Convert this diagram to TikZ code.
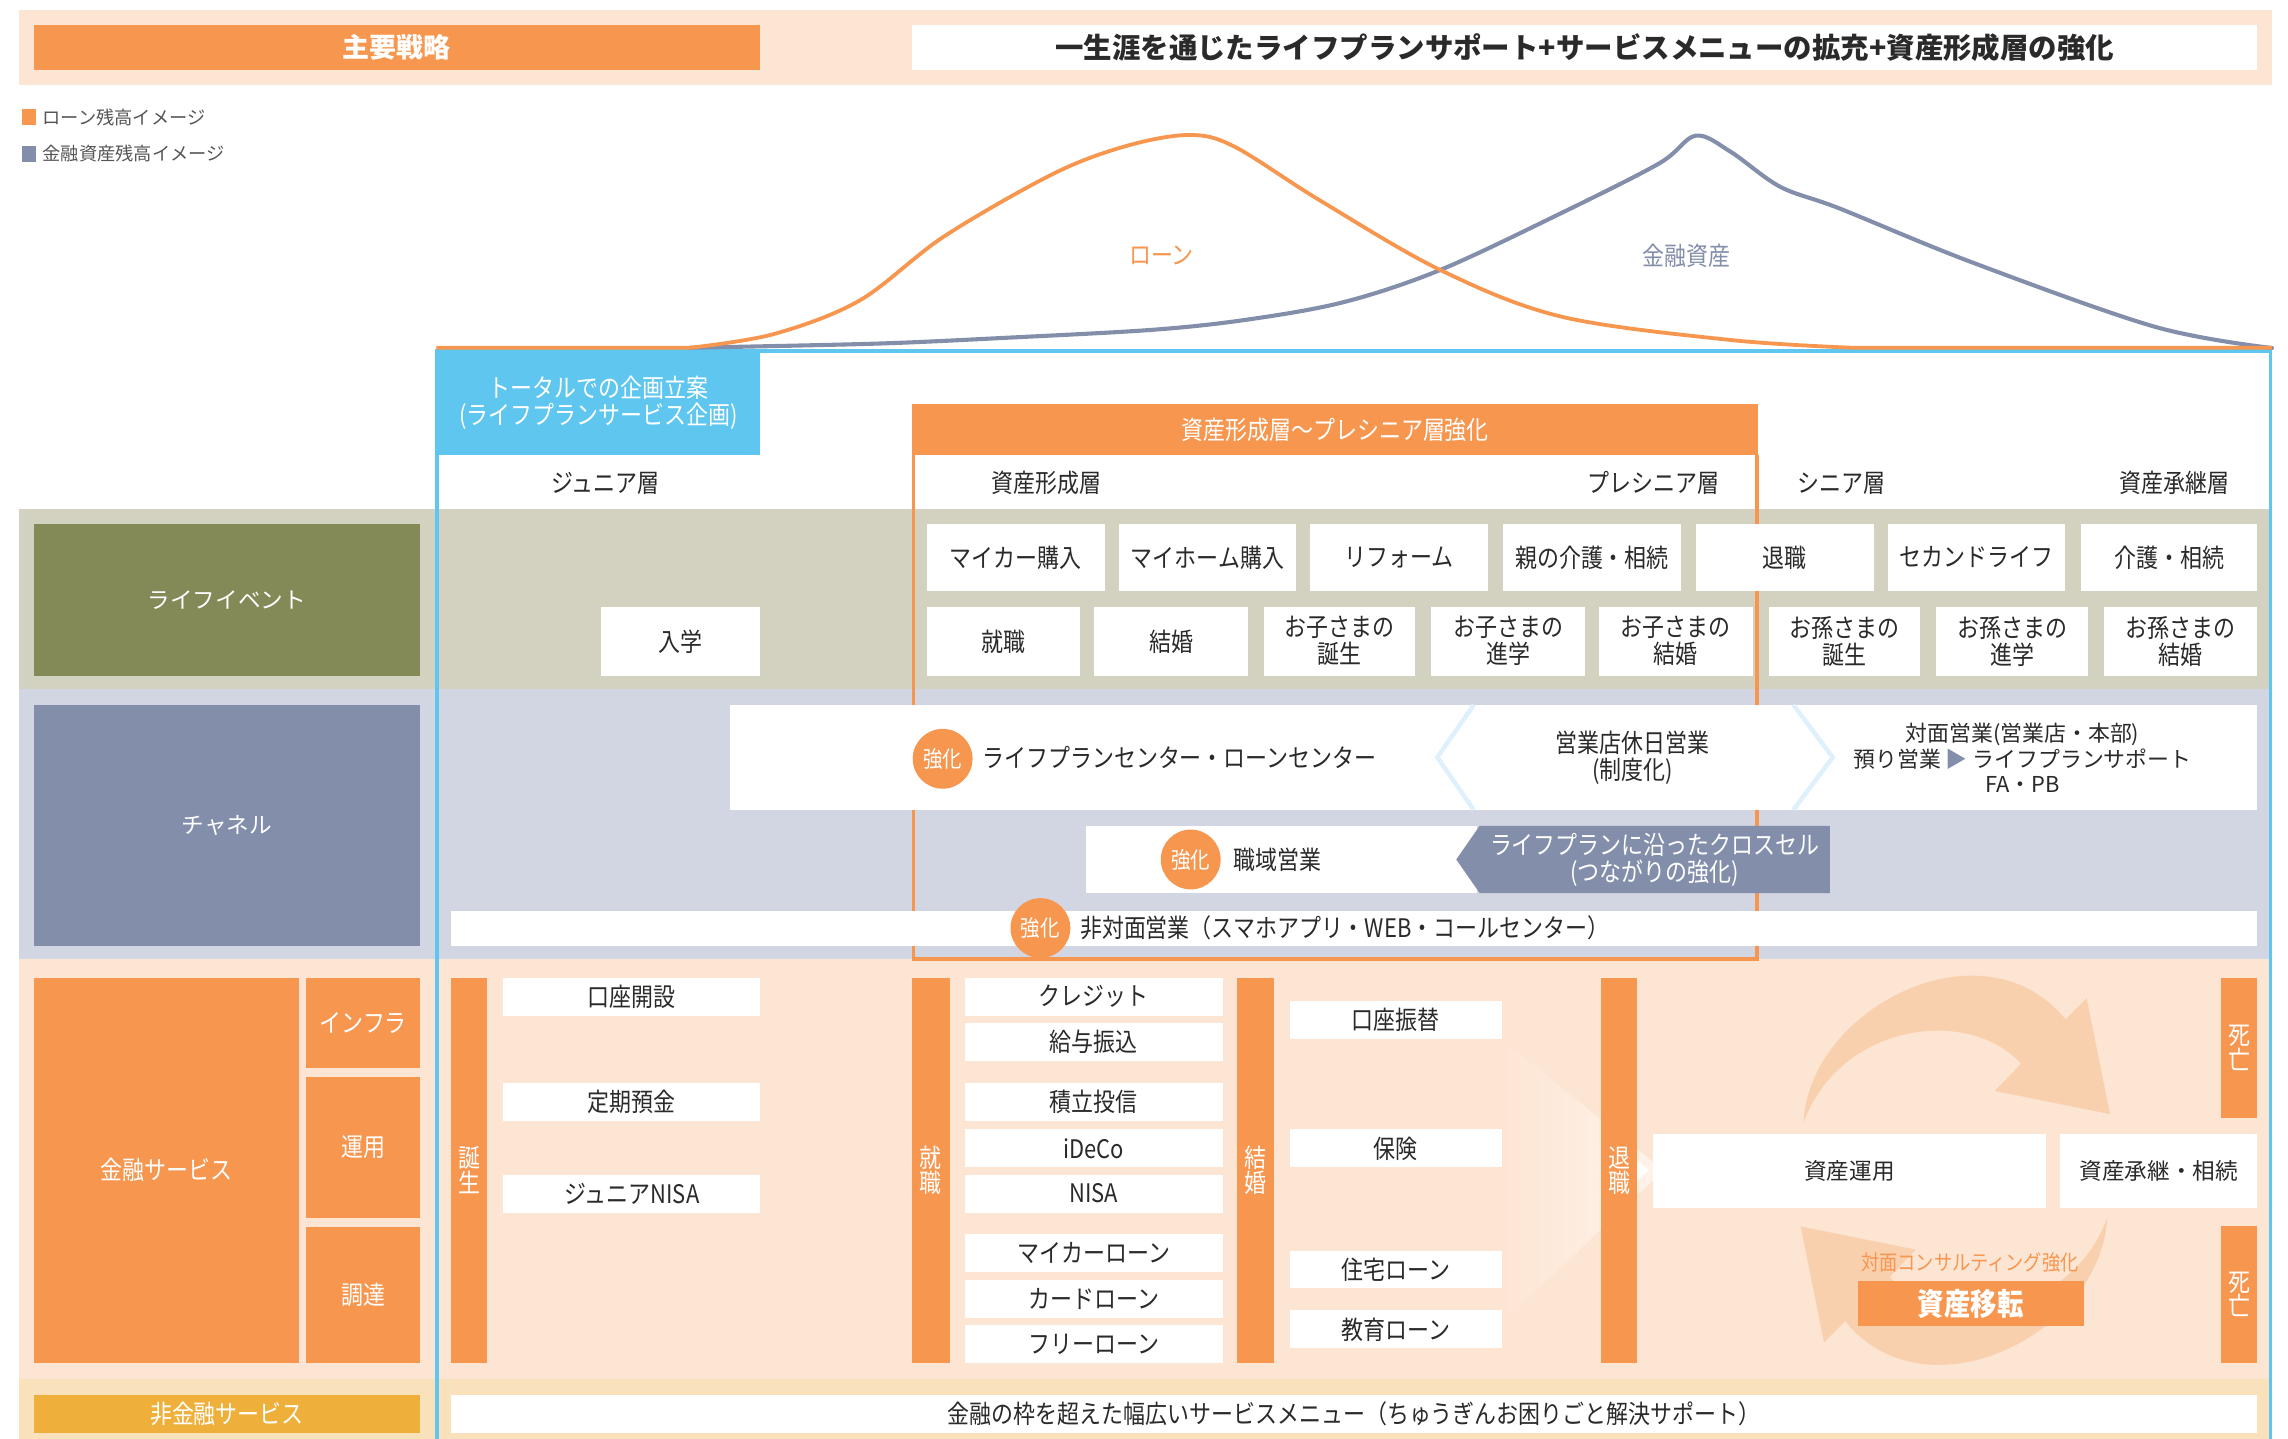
\documentclass[tikz,border=0pt]{standalone}
\usepackage{fontspec}
\setmainfont{Noto Sans CJK JP}
\newfontfamily\jp{Noto Sans CJK JP}
\newfontfamily\jpc[FakeStretch=0.86]{Noto Sans CJK JP}
\definecolor{cOr}{HTML}{F7964F}
\definecolor{cPeach}{HTML}{FDE5D3}
\definecolor{cBeige}{HTML}{D3D2C1}
\definecolor{cOlive}{HTML}{838A57}
\definecolor{cChan}{HTML}{D2D6E2}
\definecolor{cSlate}{HTML}{838EAA}
\definecolor{cBlue}{HTML}{5EC6EF}
\definecolor{cYel}{HTML}{F9E1BB}
\definecolor{cYelBox}{HTML}{EFB03B}
\definecolor{cArr}{HTML}{F9D0AE}
\definecolor{cChev}{HTML}{DDF0FB}
\definecolor{cTxt}{HTML}{2A2A2A}
\definecolor{cGray}{HTML}{555555}
\tikzset{
  wbox/.style={draw=none, fill=white, inner sep=0pt, outer sep=0pt, align=center, text=cTxt,
    font={\jpc\fontsize{17.5}{18.5}\selectfont}},
  nfont/.style={font={\jp\fontsize{15.5}{17.5}\selectfont}},
  barbox/.style={fill=cOr, text=white, font={\jpc\fontsize{17.5}{17}\selectfont}},
  kyoka/.style={circle, fill=cOr, minimum size=41pt, inner sep=0pt, text=white,
    font={\jpc\fontsize{15.5}{15.5}\selectfont}},
  lbl/.style={inner sep=0pt, text=cTxt, align=center, font={\jpc\fontsize{17.5}{18.5}\selectfont}},
}
% \bx[options]{name}{x1}{y1}{x2}{y2}{text}
\newcommand\bx[7][]{\node[wbox,minimum width={#5-#3},minimum height={#6-#4},#1] (#2) at ({(#3+#5)/2},{(#4+#6)/2}) {#7};}
\begin{document}
\begin{tikzpicture}[x=1pt,y=-1pt]
\useasboundingbox (0,0) rectangle (1568,986);
\fill[white] (0,0) rectangle (1568,986);

% ---------- header ----------
\fill[cPeach] (13,7) rectangle (1557,58);
\bx[fill=cOr,text=white,font={\jp\bfseries\fontsize{18.5}{20}\selectfont}]{hdl}{23}{17}{521}{48}{主要戦略}
\bx[font={\jp\bfseries\fontsize{19.5}{21}\selectfont}]{hdr}{625}{17}{1547}{48}{一生涯を通じたライフプランサポート+サービスメニューの拡充+資産形成層の強化}

% ---------- legend ----------
\fill[cOr] (15,75) rectangle (25,86);
\node[anchor=west,inner sep=0pt,text=cGray,font={\jp\fontsize{12.5}{14}\selectfont}] (lg1) at (29,80.5) {ローン残高イメージ};
\fill[cSlate] (15,100) rectangle (25,111);
\node[anchor=west,inner sep=0pt,text=cGray,font={\jp\fontsize{12.5}{14}\selectfont}] (lg2) at (29,105.5) {金融資産残高イメージ};

% ---------- bands ----------
\fill[cBeige] (13,349) rectangle (1557,472);
\fill[cChan] (13,472) rectangle (1557,657);
\fill[cPeach] (13,657) rectangle (1557,945);
\fill[cYel] (13,945) rectangle (1557,986);

% ---------- blue frame ----------
\bx[fill=cBlue,text=white]{plan}{299}{240}{521}{312}{トータルでの企画立案\\(ライフプランサービス企画)}
\draw[cBlue,line width=2.5pt] (299.5,986) -- (299.5,240.5) -- (1556,240.5) -- (1556,986);

% ---------- curves ----------
\draw[cSlate,line width=2.8pt,line cap=round] plot[smooth,tension=0.55] coordinates {(473,238.3) (600,235.5) (689,231.5) (790,226) (855,219) (921,207) (987,185) (1070,146) (1137,112) (1162,93) (1186,104) (1220,128) (1261,143) (1352,180) (1477,224) (1557,238.5)};
\draw[cOr,line width=2.6pt] (299,238.3) -- (473,238.3) -- plot[smooth,tension=0.55] coordinates {(473,238.3) (530,229) (589,206) (647,162) (722,119) (772,100) (815,92.5) (846,100.5) (904,137) (987,185) (1070,217) (1186,233) (1269,238.3)} -- (1557,238.3);
\node[lbl,text=cOr] (loanlbl) at (796,175) {ローン};
\node[lbl,text=cSlate] (assetlbl) at (1156,175) {金融資産};

% ---------- orange frame ----------
\draw[cOr,line width=2.5pt] (626,312) -- (626,657) -- (1204,657) -- (1204,312);
\bx[fill=cOr,text=white]{senior}{625}{277}{1205}{312}{資産形成層～プレシニア層強化}

% ---------- column labels ----------
\node[lbl] (c1) at (415,331) {ジュニア層};
\node[lbl] (c2) at (717,331) {資産形成層};
\node[lbl] (c3) at (1133,331) {プレシニア層};
\node[lbl] (c4) at (1262,331) {シニア層};
\node[lbl] (c5) at (1490,331) {資産承継層};

% ---------- life events ----------
\bx[fill=cOlive,text=white,nfont]{le}{23}{359}{288}{463}{ライフイベント}
\bx{e1}{635}{359}{757}{405}{マイカー購入}
\bx{e2}{767}{359}{888}{405}{マイホーム購入}
\bx{e3}{898}{359}{1020}{405}{リフォーム}
\bx{e4}{1030}{359}{1152}{405}{親の介護・相続}
\bx{e5}{1162}{359}{1284}{405}{退職}
\bx{e6}{1294}{359}{1415}{405}{セカンドライフ}
\bx{e7}{1426}{359}{1547}{405}{介護・相続}
\bx{f0}{412}{416}{521}{463}{入学}
\bx{f1}{635}{416}{740}{463}{就職}
\bx{f2}{750}{416}{855}{463}{結婚}
\bx{f3}{866}{416}{970}{463}{お子さまの\\誕生}
\bx{f4}{981}{416}{1086}{463}{お子さまの\\進学}
\bx{f5}{1096}{416}{1201}{463}{お子さまの\\結婚}
\bx{f6}{1212}{416}{1316}{463}{お孫さまの\\誕生}
\bx{f7}{1327}{416}{1431}{463}{お孫さまの\\進学}
\bx{f8}{1442}{416}{1547}{463}{お孫さまの\\結婚}

% ---------- channels ----------
\bx[fill=cSlate,text=white,nfont]{ch}{23}{483}{288}{648}{チャネル}
\bx{cb1}{500}{483}{1547}{555}{}
\draw[cChev,line width=3pt] (1010,483) -- (985,519) -- (1010,555);
\draw[cChev,line width=3pt] (1229,483) -- (1256,519) -- (1229,555);
\node[kyoka] (k1) at (646,520) {強化};
\node[lbl,anchor=west] (lpc) at (673,519) {ライフプランセンター・ローンセンター};
\node[lbl] (eig) at (1119,519) {営業店休日営業\\(制度化)};
\node[lbl,font={\jp\fontsize{15}{17.5}\selectfont}] (tai) at (1386,519.5) {対面営業(営業店・本部)\\預り営業 {\color{cSlate}▶} ライフプランサポート\\FA・PB};
\bx{cb2}{744}{566}{1012}{612}{}
\fill[cSlate] (998,589) -- (1014,566) -- (1254,566) -- (1254,612) -- (1014,612) -- cycle;
\node[lbl,text=white] (cross) at (1134,589) {ライフプランに沿ったクロスセル\\(つながりの強化)};
\node[kyoka] (k2) at (816,589) {強化};
\node[lbl,anchor=west] (shoku) at (845,589) {職域営業};
\bx{cb3}{309}{624}{1547}{648}{}
\node[kyoka] (k3) at (713,636) {強化};
\node[lbl,anchor=west] (hitai) at (740,636) {非対面営業（スマホアプリ・WEB・コールセンター）};

% ---------- financial services ----------
\bx[fill=cOr,text=white]{fs}{23}{670}{205}{934}{金融サービス}
\bx[fill=cOr,text=white]{inf}{210}{670}{288}{732}{インフラ}
\bx[fill=cOr,text=white]{uny}{210}{738}{288}{835}{運用}
\bx[fill=cOr,text=white]{cho}{210}{841}{288}{934}{調達}

% funnel wedge toward retirement
\shade[left color=cPeach, right color=white!55!cPeach] (1029,712) -- (1140,802) -- (1029,907) -- cycle;

% circular arrows
\fill[cArr] (1236,769) .. controls (1240,690) and (1360,630) .. (1415.5,698.6) -- (1430,684) -- (1446,763.5) -- (1367,747.6) -- (1385,729) .. controls (1350,690) and (1262,700) .. (1236,769) -- cycle;
\begin{scope}[rotate around={180:(1340,802)}]
\fill[cArr] (1236,769) .. controls (1240,690) and (1360,630) .. (1415.5,698.6) -- (1430,684) -- (1446,763.5) -- (1367,747.6) -- (1385,729) .. controls (1350,690) and (1262,700) .. (1236,769) -- cycle;
\end{scope}

% bars
\bx[barbox]{b1}{309}{670}{334}{934}{誕\\生}
\bx[barbox]{b2}{625}{670}{651}{934}{就\\職}
\bx[barbox]{b3}{848}{670}{873}{934}{結\\婚}
\bx[barbox]{b4}{1097}{670}{1122}{934}{退\\職}
\fill[white] (1122,795) -- (1130,802) -- (1122,809) -- cycle;
\bx[barbox]{b5}{1522}{670}{1547}{766}{死\\亡}
\bx[barbox]{b6}{1522}{840}{1547}{934}{死\\亡}

% column A
\bx{a1}{345}{670}{521}{696}{口座開設}
\bx{a2}{345}{742}{521}{768}{定期預金}
\bx{a3}{345}{805}{521}{831}{ジュニアNISA}
% column B
\bx{p1}{661}{670}{838}{696}{クレジット}
\bx{p2}{661}{701}{838}{727}{給与振込}
\bx{p3}{661}{742}{838}{768}{積立投信}
\bx{p4}{661}{774}{838}{800}{iDeCo}
\bx{p5}{661}{805}{838}{831}{NISA}
\bx{p6}{661}{846}{838}{872}{マイカーローン}
\bx{p7}{661}{877}{838}{903}{カードローン}
\bx{p8}{661}{908}{838}{934}{フリーローン}
% column C
\bx{q1}{884}{686}{1029}{712}{口座振替}
\bx{q2}{884}{774}{1029}{800}{保険}
\bx{q3}{884}{857}{1029}{883}{住宅ローン}
\bx{q4}{884}{898}{1029}{924}{教育ローン}
% right part
\bx[font={\jp\fontsize{15.5}{17}\selectfont}]{r1}{1133}{777}{1402}{828}{資産運用}
\bx[font={\jp\fontsize{15.5}{17}\selectfont}]{r2}{1412}{777}{1547}{828}{資産承継・相続}
\node[lbl,text=cOr,font={\jpc\fontsize{14.5}{16}\selectfont}] (consul) at (1350,865) {対面コンサルティング強化};
\bx[fill=cOr,text=white,font={\jpc\bfseries\fontsize{21}{22}\selectfont}]{iten}{1273}{878}{1428}{909}{資産移転}

% ---------- non-financial ----------
\bx[fill=cYelBox,text=white]{nf}{23}{956}{288}{982}{非金融サービス}
\bx{nfb}{309}{956}{1547}{982}{金融の枠を超えた幅広いサービスメニュー（ちゅうぎんお困りごと解決サポート）}
\end{tikzpicture}
\end{document}
